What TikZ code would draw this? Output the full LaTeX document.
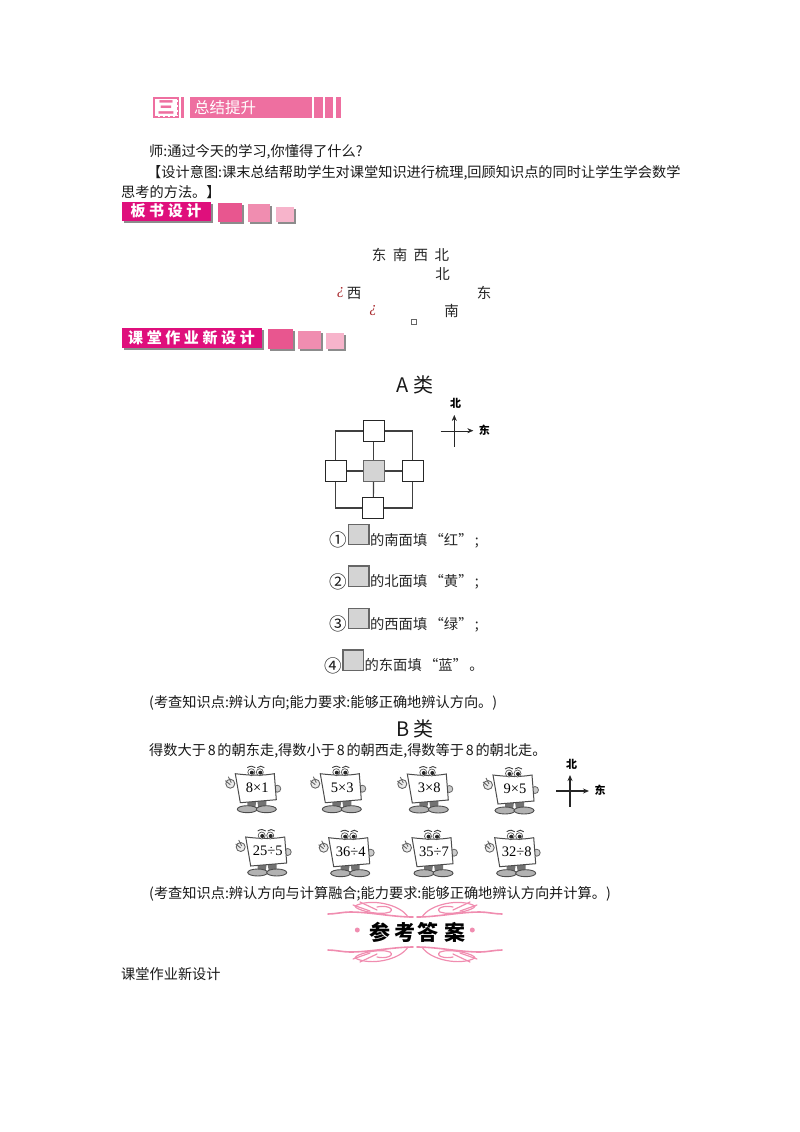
\documentclass[tikz,border=0pt]{standalone}
\usepackage{fontspec}
\setmainfont{Noto Sans CJK SC}
\newfontfamily\numfont{Liberation Serif}
\newfontfamily\bannerfont[LetterSpace=24]{Noto Sans CJK SC}
\usetikzlibrary{arrows.meta,calc,positioning,shadows}
\definecolor{barpink}{HTML}{EE6FA0}
\definecolor{tagpink}{HTML}{DF0F7C}
\definecolor{tileA}{HTML}{E8568F}
\definecolor{tileB}{HTML}{F08DB0}
\definecolor{tileC}{HTML}{F7B4CB}
\definecolor{hookred}{HTML}{A8282C}
\tikzset{
    txtline/.style={inner sep=0pt, anchor=base west, font=\fontsize{14.2}{16}\selectfont, text=black!90},
    word/.style={inner sep=0pt, font=\fontsize{14.5}{16}\selectfont, text=black!85},
    tag/.style={inner sep=0pt, fill=tagpink, text=white, font=\bannerfont\bfseries\fontsize{15}{16}\selectfont,
        drop shadow={shadow xshift=2pt, shadow yshift=-2pt, fill=black!45, opacity=1}},
    tile/.style={inner sep=0pt, draw=none, fill=#1,
        drop shadow={shadow xshift=2pt, shadow yshift=-2pt, fill=black!45, opacity=1}},
    gridbox/.style={draw=black!85, line width=1.3pt, fill=white, inner sep=0pt, minimum width=21pt, minimum height=21pt},
    greybox/.style={draw=black!60, line width=1.1pt, fill=black!17, inner sep=0pt, minimum width=20.5pt, minimum height=20.5pt},
    gridline/.style={draw=black!75, line width=1.2pt},
    compass/.style={draw=black!85, -{Stealth[length=6pt,width=5pt]}},
    dirmark/.style={inner sep=0pt, font=\bfseries\fontsize{11}{12}\selectfont},
    swirl/.style={draw=tileB, line width=1.2pt, line cap=round},
    heading/.style={inner sep=0pt, font=\fontsize{20}{20}\selectfont, text=black!90}
}
\begin{document}
\begin{tikzpicture}[x=1pt,y=-1pt]
    \useasboundingbox (0,0) rectangle (800,1132);
    % top bar
    \fill[barpink] (153,97) rectangle (179,118);
    \node[draw=barpink, densely dashed, fill=white, line width=1pt, inner sep=0pt, minimum width=23pt, minimum height=18pt,
        text=barpink, font=\bfseries\fontsize{17}{17}\selectfont] (icon) at (166,107.5) {三};
    \fill[barpink] (181,97) rectangle (184,118);
    \node[fill=barpink, inner sep=0pt, minimum width=122pt, minimum height=21pt] (bar) at (251,107.5) {};
    \node[inner sep=0pt, anchor=west, text=white, font=\fontsize{15.5}{16}\selectfont] (bartext) at (194,107.5) {总结提升};
    \foreach \a/\b in {314/323,325/333,336/341}
        \fill[barpink] (\a,97) rectangle (\b,118);
    % lines of text
    \node[txtline] (t1) at (149,156) {师:通过今天的学习,你懂得了什么?};
    \node[txtline] (t2) at (147,177) {【设计意图:课末总结帮助学生对课堂知识进行梳理,回顾知识点的同时让学生学会数学};
    \node[txtline] (t3) at (121,197) {思考的方法。】};
    % first tag
    \node[tag, minimum width=89pt, minimum height=19pt] (tag1) at (166,211) {板书设计};
    \node[tile=tileA, minimum width=24pt, minimum height=19pt] (s1) at (230,212) {};
    \node[tile=tileB, minimum width=22pt, minimum height=18pt] (s2) at (259,213) {};
    \node[tile=tileC, minimum width=18pt, minimum height=15pt] (s3) at (285,214.5) {};
    % directions
    \node[word] (n1) at (410.5,255) {东\hspace{6.5pt}南\hspace{6.5pt}西\hspace{6.5pt}北};
    \node[word] (n2) at (442.5,274.5) {北};
    \node[inner sep=0pt, text=hookred, font=\numfont\itshape\fontsize{15}{16}\selectfont] (q1) at (340.5,293) {¿};
    \node[word] (n3) at (354,293) {西};
    \node[word] (n4) at (484,293) {东};
    \node[inner sep=0pt, text=hookred, font=\numfont\itshape\fontsize{15}{16}\selectfont] (q2) at (373,311) {¿};
    \node[word] (n5) at (451.5,311) {南};
    \node[draw=black!60, inner sep=0pt, minimum size=5pt, fill=white, drop shadow={shadow xshift=.8pt, shadow yshift=-.8pt, fill=black!70, opacity=1}] (q3) at (413.5,321.5) {};
    % second tag
    \node[tag, minimum width=140pt, minimum height=19.5pt] (tag2) at (191.5,338) {课堂作业新设计};
    \node[tile=tileA, minimum width=25pt, minimum height=20pt] (u1) at (280.5,339) {};
    \node[tile=tileB, minimum width=22.5pt, minimum height=18pt] (u2) at (309.5,340) {};
    \node[tile=tileC, minimum width=18pt, minimum height=16pt] (u3) at (335,341) {};
    % A part
    \node[heading] (ta) at (415,385) {A\hspace{4pt}类};
    \node[gridbox] (bT) at (373.7,431) {};
    \node[gridbox] (bL) at (335.8,471) {};
    \node[greybox, minimum width=21pt, minimum height=21pt] (bC) at (373.7,471) {};
    \node[gridbox] (bR) at (412.8,471) {};
    \node[gridbox] (bB) at (373.2,508) {};
    \draw[gridline] (bT.west) -| (bL.north);
    \draw[gridline] (bT.east) -| (bR.north);
    \draw[gridline] (bB.west) -| (bL.south);
    \draw[gridline] (bB.east) -| (bR.south);
    \draw[gridline] (bT) -- (bC);
    \draw[gridline] (bL) -- (bC);
    \draw[gridline] (bC) -- (bR);
    \draw[gridline] (bC) -- (bB);
    \coordinate (c1) at (454.3,446.7);
    \coordinate (c2) at (454.3,415);
    \coordinate (c3) at (440.7,430.7);
    \coordinate (c4) at (473.3,430.7);
    \draw[compass] (c1) -- (c2);
    \draw[compass] (c3) -- (c4);
    \node[dirmark] (cn) at (455.7,403.3) {北};
    \node[dirmark] (ce) at (484.3,430) {东};
    % four rows
    \foreach \i/\cx/\bx/\y/\sym/\lab in {1/338.3/358.7/540/①/{的南面填\,“红”\,;},2/338.3/358.7/581.7/②/{的北面填\,“黄”\,;},3/338.3/358.7/624/③/{的西面填\,“绿”\,;},4/333/353.2/665.7/④/{的东面填\,“蓝”\,。}}{
    \node[inner sep=0pt, font=\fontsize{17.5}{18}\selectfont, text=black!90] (o\i) at (\cx,\y) {\sym};
    \node[greybox] (g\i) at (\bx,\y-5.5) {};
    \node[inner sep=0pt, anchor=base west, font=\fontsize{14.3}{16}\selectfont, text=black!85] (w\i) at (\bx+11.2,\y+5) {\lab};
    }
    \node[txtline] (t4) at (149,707) {(考查知识点:辨认方向;能力要求:能够正确地辨认方向。)};
    % B part
    \node[heading] (tb) at (415,729) {B\hspace{4pt}类};
    \node[txtline] (t5) at (149,755) {得数大于\hspace{1.8pt}8\hspace{1.8pt}的朝东走,得数小于\hspace{1.8pt}8\hspace{1.8pt}的朝西走,得数等于\hspace{1.8pt}8\hspace{1.8pt}的朝北走。};
    \foreach \i/\mx/\my/\lab in {a/257.3/787.7/8×1,b/342.3/787.7/5×3,c/429.3/788/3×8,d/515/789/9×5,e/267.7/851/25÷5,f/350.7/851.7/36÷4,g/434/851.7/35÷7,h/516.7/851.7/32÷8}{
    \begin{scope}[shift={(\mx,\my)}]
    \draw[black!60, fill=black!8, line width=.9pt] (-27,-4) circle (4.5);
    \draw[black!60, line width=.9pt] (-29,-11) -- (-26,-5) (-32,-7) -- (-27,-3);
    \draw[black!60, fill=black!20, line width=.8pt] (20,1) circle (3.5);
    \fill[black!55] (-10,13) -- (-1,13) -- (-2,20) -- (-10,20) -- cycle;
    \fill[black!55] (0,13) -- (9,13) -- (9,20) -- (1,20) -- cycle;
    \draw[black!70, fill=black!30, line width=.9pt] (-10,21.5) ellipse (10 and 3.5);
    \draw[black!70, fill=black!30, line width=.9pt] (9,21.5) ellipse (10 and 3.5);
    \draw[black!70, fill=white, line width=1pt] (-22,-14) .. controls (-5,-12) and (5,-12) .. (17,-14) -- (19,12) -- (-17,15) -- cycle;
    \draw[black!65, fill=white, line width=.7pt] (-6,-15.5) circle (3.5) (2.5,-15.5) circle (3.5);
    \fill[black!85] (-5.5,-15) circle (2) (3,-15) circle (2);
    \draw[black!75, line width=.9pt] (-10,-20) .. controls (-7,-22) and (-4,-22) .. (-2,-20) (0,-20) .. controls (2,-22) and (5,-22) .. (7,-20);
    \node[inner sep=0pt, font=\numfont\fontsize{14.5}{15}\selectfont] (m\i) at (0,0) {\lab};
    \end{scope}
    }
    \coordinate (d1) at (570,806.7);
    \coordinate (d2) at (570,775);
    \coordinate (d3) at (556,791);
    \coordinate (d4) at (589,791);
    \draw[compass, line width=1.1pt] (d1) -- (d2);
    \draw[compass, line width=1.1pt] (d3) -- (d4);
    \node[dirmark] (dn) at (571.7,764) {北};
    \node[dirmark] (de) at (600,790.7) {东};
    \node[txtline] (t6) at (149,898) {(考查知识点:辨认方向与计算融合;能力要求:能够正确地辨认方向并计算。)};
    % answer banner
    \foreach \sx/\sy in {1/1,-1/1,1/-1,-1/-1}{
    \begin{scope}[shift={(415,932)}, xscale=\sx, yscale=\sy]
    \draw[swirl, line width=1.6pt] (2,-15) .. controls (22,-15) and (45,-20) .. (65,-20) .. controls (72,-20) and (80,-18) .. (87,-18);
    \draw[swirl] (7,-15) .. controls (15,-28) and (45,-34) .. (60,-26) .. controls (60,-22) and (35,-16) .. (25,-20) .. controls (20,-24) and (30,-27) .. (38,-25);
    \draw[swirl] (55,-30) -- (38,-22) (62,-27) -- (45,-21);
    \end{scope}
    }
    \fill[tileB] (357.3,930) circle (2.5) (472.3,930) circle (2.5);
    \foreach \i/\ax/\ch in {1/380/参,2/405/考,3/428/答,4/455/案}
        \node[inner sep=0pt, font=\bfseries\fontsize{21}{22}\selectfont] (ans\i) at (\ax,932.5) {\ch};
    \node[txtline] (t7) at (121,979) {课堂作业新设计};
\end{tikzpicture}
\end{document}
